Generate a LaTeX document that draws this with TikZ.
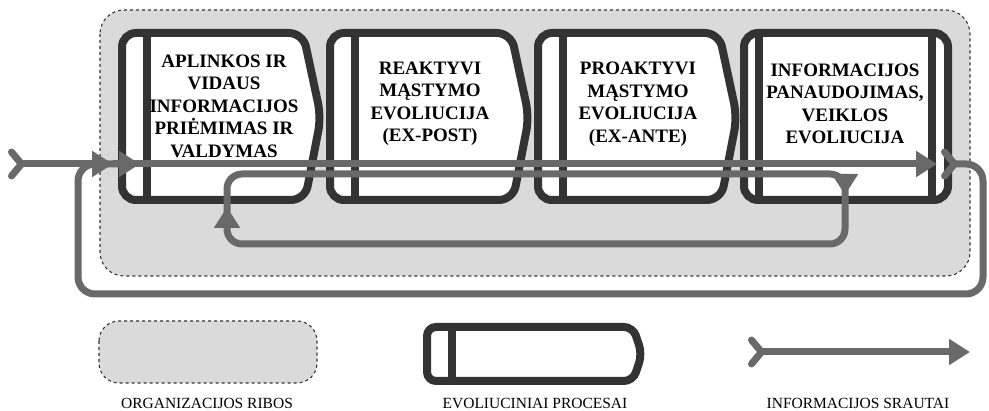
\documentclass[tikz,border=0pt]{standalone}
\usepackage{fontspec}
\setmainfont{Liberation Serif}[BoldFont={Liberation Serif Bold}]
\usetikzlibrary{arrows.meta,positioning}
\definecolor{boxline}{HTML}{333333}
\definecolor{flowgray}{HTML}{696969}
\definecolor{orgfill}{HTML}{DADADA}
\tikzset{
	procline/.style={draw=boxline, line width=8pt},
	orgline/.style={draw=black!80, fill=orgfill, dashed, line width=1.1pt, rounded corners=24pt},
	flowline/.style={draw=flowgray, line width=7pt, rounded corners=17pt},
	flow/.style={flowline, -{Triangle[length=21pt,width=25pt]}},
	fletch/.style={{Straight Barb[reversed,length=10pt,width=24pt,round]}-{Triangle[length=21pt,width=25pt]}},
	boxtext/.style={align=center, font=\bfseries\fontsize{19}{22.5}\selectfont},
	legtext/.style={font=\fontsize{15.5}{17}\selectfont}
}
\newcommand{\evbox}{\draw[procline, fill=white, rounded corners=14pt] (0,33) -- (181,33) -- (199,117) -- (183,200) -- (0,200) -- cycle;
	\draw[procline] (25,33) -- (25,200);}

\begin{document}
\begin{tikzpicture}[x=1pt, y=-1pt]

	\useasboundingbox (0,0) rectangle (989,411);

	\draw[orgline] (100,10) rectangle (970,276);

	\begin{scope}[xshift = 122pt]
		\evbox
	\end{scope}

	\begin{scope}[xshift = 330pt]
		\evbox
	\end{scope}

	\begin{scope}[xshift = 538pt]
		\evbox
	\end{scope}

	\draw[procline, fill=white, rounded corners=14pt] (744,33) rectangle (948,200);
	\draw[procline] (759,33) -- (759,200);
	\draw[procline] (932,33) -- (932,200);

	\node[boxtext] (aplinka) at (224,106) {APLINKOS IR\\VIDAUS\\INFORMACIJOS\\PRIĖMIMAS IR\\VALDYMAS};
	\node[boxtext] (reakt) at (430,104) {REAKTYVI\\MĄSTYMO\\EVOLIUCIJA\\(EX-POST)};
	\node[boxtext] (proakt) at (638,104) {PROAKTYVI\\MĄSTYMO\\EVOLIUCIJA\\(EX-ANTE)};
	\node[boxtext] (panaud) at (845,104) {INFORMACIJOS\\PANAUDOJIMAS,\\VEIKLOS\\EVOLIUCIJA};

	\coordinate (in) at (8,164);
	\coordinate (join1) at (113,164);
	\coordinate (join2) at (140,164);
	\coordinate (out) at (937,164);
	\coordinate (back) at (941,164);
	\coordinate (downtip) at (845,195);
	\coordinate (uptip) at (227,207);

	\draw[flowline, rounded corners=15pt] (227,174) rectangle (845,244);
	\draw[flow] (845,178) -- (downtip);
	\draw[flow] (227,226) -- (uptip);

	\draw[flow, fletch] (back) -- (983,164) -- (983,294) -- (78,294) -- (78,164) -- (join2);
	\draw[flow, fletch] (in) -- (join1);
	\draw[flow] (join1) -- (out);

	\draw[orgline, rounded corners=20pt] (99,321) rectangle (317,383);

	\draw[procline, fill=white, rounded corners=9pt] (427,327) -- (633,327) -- (642,354) -- (633,381) -- (427,381) -- cycle;
	\draw[procline] (452,327) -- (452,381);

	\coordinate (legA) at (748,352);
	\coordinate (legB) at (970,352);
	\draw[flow, fletch] (legA) -- (legB);

	\node[legtext] (orglbl) at (207,403) {ORGANIZACIJOS RIBOS};
	\node[legtext] (evlbl) at (535,403) {EVOLIUCINIAI PROCESAI};
	\node[legtext] (flowlbl) at (858,403) {INFORMACIJOS SRAUTAI};

\end{tikzpicture}
\end{document}
